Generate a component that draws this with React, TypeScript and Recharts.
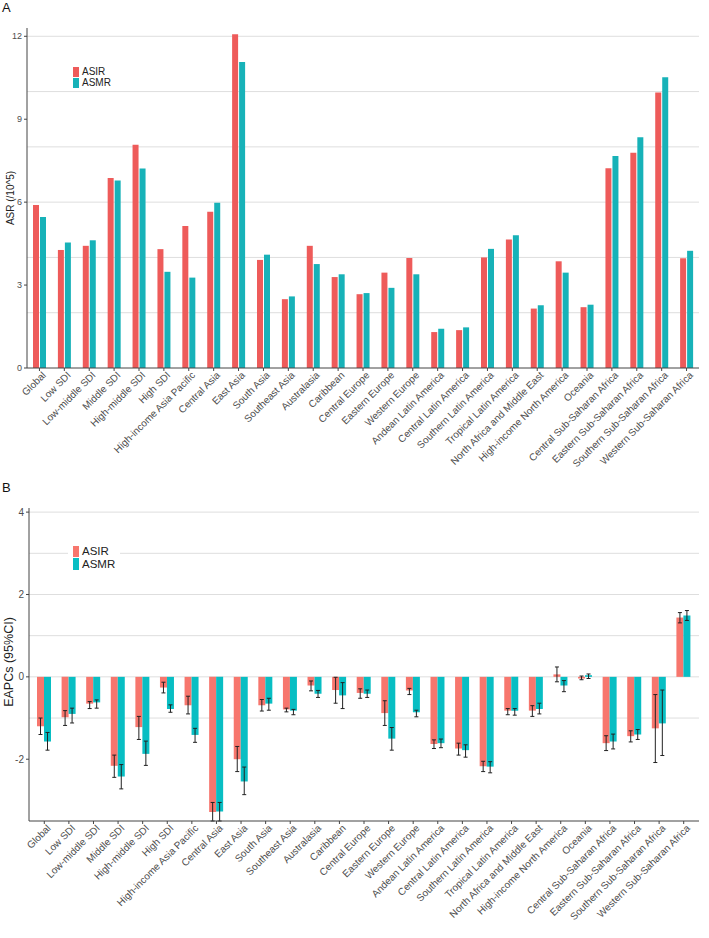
import React from 'react';
import { BarChart, Bar, XAxis, YAxis, CartesianGrid, ErrorBar } from 'recharts';

const regions = [
  'Global', 'Low SDI', 'Low-middle SDI', 'Middle SDI', 'High-middle SDI', 'High SDI',
  'High-income Asia Pacific', 'Central Asia', 'East Asia', 'South Asia', 'Southeast Asia',
  'Australasia', 'Caribbean', 'Central Europe', 'Eastern Europe', 'Western Europe',
  'Andean Latin America', 'Central Latin America', 'Southern Latin America',
  'Tropical Latin America', 'North Africa and Middle East', 'High-income North America',
  'Oceania', 'Central Sub-Saharan Africa', 'Eastern Sub-Saharan Africa',
  'Southern Sub-Saharan Africa', 'Western Sub-Saharan Africa',
];

// panel A: age-standardised rates per 100,000
const asirRate = [5.9, 4.27, 4.42, 6.87, 8.08, 4.3, 5.14, 5.65, 12.07, 3.91, 2.49, 4.42, 3.29, 2.67, 3.45, 3.98, 1.3, 1.37, 4.0, 4.65, 2.15, 3.86, 2.2, 7.23, 7.79, 9.97, 3.97];
const asmrRate = [5.46, 4.54, 4.62, 6.78, 7.22, 3.48, 3.27, 5.98, 11.07, 4.1, 2.59, 3.76, 3.39, 2.71, 2.9, 3.39, 1.42, 1.47, 4.31, 4.8, 2.27, 3.45, 2.29, 7.67, 8.35, 10.52, 4.24];
const asrTicks = [0, 3, 6, 9, 12];
const asrGrid = [2, 4, 6, 8, 10, 12];

// panel B: EAPC with 95% CI (Central Asia lower limits run off the bottom of the plot)
const asirEapc = [-1.2, -0.98, -0.65, -2.16, -1.22, -0.26, -0.69, -3.28, -2.0, -0.69, -0.79, -0.21, -0.32, -0.39, -0.88, -0.33, -1.63, -1.74, -2.17, -0.82, -0.82, 0.06, -0.04, -1.61, -1.44, -1.25, 1.44];
const asirLow = [-1.4, -1.18, -0.77, -2.44, -1.52, -0.39, -0.9, -3.5, -2.3, -0.83, -0.85, -0.34, -0.64, -0.52, -1.18, -0.43, -1.74, -1.9, -2.3, -0.92, -0.96, -0.12, -0.07, -1.79, -1.58, -2.08, 1.31];
const asirHigh = [-1.0, -0.82, -0.6, -1.9, -0.96, -0.13, -0.47, -3.05, -1.69, -0.55, -0.76, -0.1, -0.01, -0.29, -0.58, -0.28, -1.53, -1.61, -2.05, -0.77, -0.7, 0.24, 0.02, -1.43, -1.31, -0.43, 1.56];
const asmrEapc = [-1.57, -0.9, -0.62, -2.42, -1.87, -0.78, -1.41, -3.27, -2.54, -0.65, -0.82, -0.41, -0.45, -0.41, -1.5, -0.86, -1.61, -1.78, -2.18, -0.82, -0.78, -0.21, 0.04, -1.57, -1.4, -1.13, 1.49];
const asmrLow = [-1.78, -1.12, -0.76, -2.72, -2.15, -0.86, -1.59, -3.5, -2.86, -0.81, -0.92, -0.5, -0.77, -0.5, -1.78, -0.97, -1.72, -1.95, -2.33, -0.93, -0.9, -0.36, -0.04, -1.75, -1.52, -1.91, 1.37];
const asmrHigh = [-1.35, -0.76, -0.56, -2.13, -1.56, -0.68, -1.25, -3.05, -2.19, -0.52, -0.79, -0.33, -0.14, -0.32, -1.23, -0.81, -1.51, -1.65, -2.06, -0.77, -0.64, -0.09, 0.07, -1.39, -1.28, -0.32, 1.61];
const eapcTicks = [-2, 0, 2, 4];
const eapcGrid = [-1, 0, 1, 2, 3, 4];

const rateData = regions.map((name, i) => ({ name, asir: asirRate[i], asmr: asmrRate[i] }));
const eapcData = regions.map((name, i) => ({
  name,
  asir: asirEapc[i],
  asmr: asmrEapc[i],
  asirErr: [asirEapc[i] - asirLow[i], asirHigh[i] - asirEapc[i]],
  asmrErr: [asmrEapc[i] - asmrLow[i], asmrHigh[i] - asmrEapc[i]],
}));

const FONT = '"Liberation Sans", Arial, sans-serif';

const RegionTick = (props: any) => {
  const { x, y, payload } = props;
  return (
    <g transform={`translate(${x},${y})`}>
      <text x={0} y={0} dx={3} dy={7} textAnchor="end" transform="rotate(-45)" fontSize={10} fill="#4d4d4d" fontFamily={FONT}>
        {payload.value}
      </text>
    </g>
  );
};

// simple key box drawn over the grid, like the original
const Key = ({ left, top, red, teal, size }: any) => (
  <div style={{ position: 'absolute', left, top, background: '#fff', padding: '3px 5px', fontFamily: FONT, fontSize: size, color: '#222', lineHeight: `${size + 1}px` }}>
    {[['ASIR', red], ['ASMR', teal]].map(([label, color]) => (
      <div key={label} style={{ display: 'flex', alignItems: 'center' }}>
        <span style={{ display: 'inline-block', width: 6, height: size, background: color, marginRight: 3 }} />
        {label}
      </div>
    ))}
  </div>
);

const panelLetter = { position: 'absolute' as const, left: 2, fontFamily: FONT, fontSize: 13, color: '#111' };

export default function App() {
  const redA = '#ee5b5a';
  const tealA = '#17b2b8';
  const redB = '#f7766d';
  const tealB = '#08bec3';

  return (
    <div style={{ position: 'absolute', left: 0, top: 0, width: 709, height: 938, background: '#fff' }}>
      <div style={{ position: 'absolute', left: 0, top: 0 }}>
        <BarChart width={709} height={470} data={rateData} margin={{ top: 28, right: 10, left: 0, bottom: 0 }} barGap={1} barSize={6}>
          <CartesianGrid vertical={false} horizontalValues={asrGrid} stroke="#dedede" strokeWidth={1} />
          <XAxis dataKey="name" interval={0} height={102} tick={<RegionTick />} tickSize={3} stroke="#444" axisLine={{ stroke: '#444' }} />
          <YAxis width={27} domain={[0, 12.3]} ticks={asrTicks} tickSize={3} stroke="#444" tick={{ fontSize: 9, fill: '#4d4d4d', fontFamily: FONT }} allowDataOverflow />
          <Bar dataKey="asir" fill={redA} isAnimationActive={false} />
          <Bar dataKey="asmr" fill={tealA} isAnimationActive={false} />
        </BarChart>
      </div>

      <div style={{ position: 'absolute', left: 0, top: 470 }}>
        <BarChart width={709} height={468} data={eapcData} margin={{ top: 38, right: 10, left: 0, bottom: 0 }} barGap={0} barSize={7}>
          <CartesianGrid vertical={false} horizontalValues={eapcGrid} stroke="#dedede" strokeWidth={1} />
          <XAxis dataKey="name" interval={0} height={117} tick={<RegionTick />} tickSize={3} padding={{ left: 3, right: 3 }} stroke="#444" axisLine={{ stroke: '#444' }} />
          <YAxis width={29} domain={[-3.5, 4.1]} ticks={eapcTicks} tickSize={3} stroke="#444" tick={{ fontSize: 10, fill: '#4d4d4d', fontFamily: FONT }} allowDataOverflow />
          <Bar dataKey="asir" fill={redB} isAnimationActive={false}>
            <ErrorBar dataKey="asirErr" width={2} stroke="#222" strokeWidth={1} direction="y" />
          </Bar>
          <Bar dataKey="asmr" fill={tealB} isAnimationActive={false}>
            <ErrorBar dataKey="asmrErr" width={2} stroke="#222" strokeWidth={1} direction="y" />
          </Bar>
        </BarChart>
      </div>

      <div style={{ ...panelLetter, top: 0 }}>A</div>
      <div style={{ ...panelLetter, top: 480 }}>B</div>

      <div style={{ position: 'absolute', left: 10, top: 198, transform: 'translate(-50%,-50%) rotate(-90deg)', fontFamily: FONT, fontSize: 10, color: '#222', whiteSpace: 'nowrap' }}>
        ASR (/10^5)
      </div>
      <div style={{ position: 'absolute', left: 9, top: 662, transform: 'translate(-50%,-50%) rotate(-90deg)', fontFamily: FONT, fontSize: 12.5, color: '#222', whiteSpace: 'nowrap' }}>
        EAPCs (95%CI)
      </div>

      <Key left={68} top={63} red={redA} teal={tealA} size={10} />
      <Key left={68} top={542} red={redB} teal={tealB} size={11.5} />
    </div>
  );
}
